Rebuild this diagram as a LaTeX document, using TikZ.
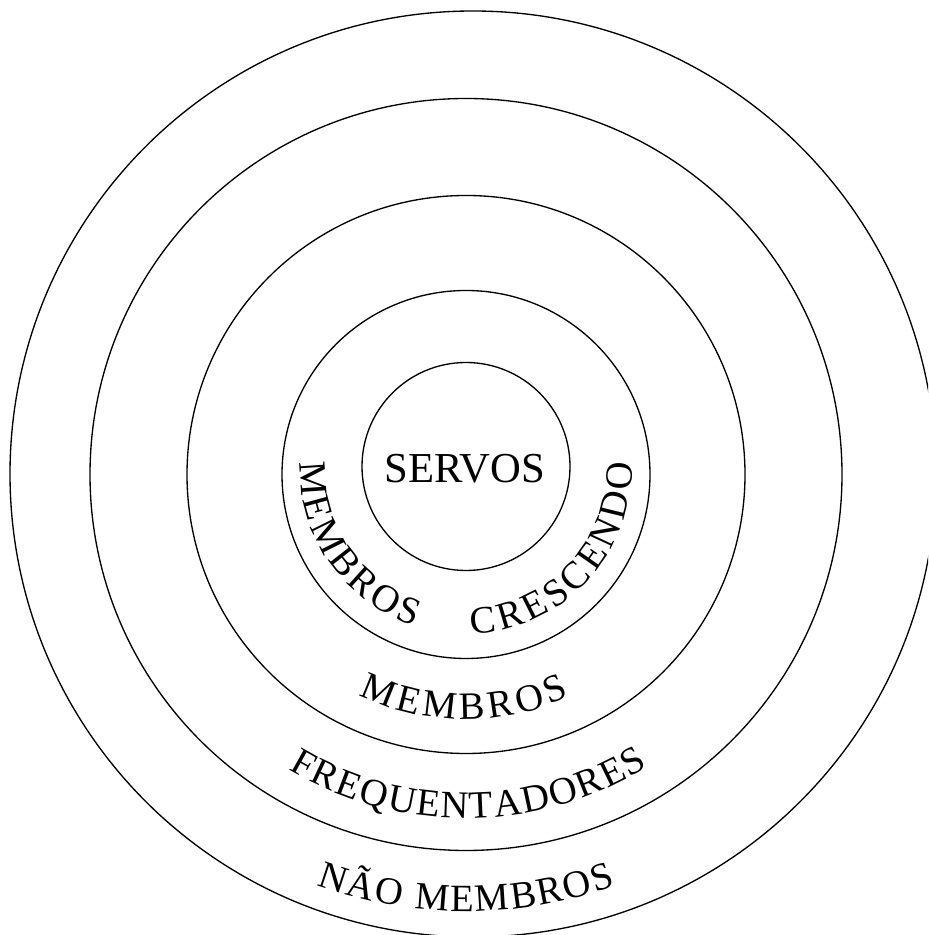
\documentclass[tikz,border=0pt]{standalone}
\usepackage{fontspec}
\setmainfont{Liberation Serif}
\usetikzlibrary{decorations.text}
\newcommand\ringfont{\fontsize{29}{32}\selectfont}

\begin{document}
\begin{tikzpicture}[
  x=0.75pt, y=0.75pt,
  ring/.style={draw, line width=1pt},
  arctext/.style={decorate, decoration={text along path, text align=fit to path,
                  text={|\ringfont|#1}}}
]
\useasboundingbox (0,0) rectangle (928,935);
\clip (0,0) rectangle (928,935);

\coordinate (core) at (466,468.5);
\coordinate (mid)  at (466,460.5);
\coordinate (rim)  at (473,461);
\coordinate (band) at (466,467);

% rings, inside out
\draw[ring] (core) circle[radius=104];
\draw[ring] (mid)  circle[radius=184];
\draw[ring] (mid)  circle[radius=279];
\draw[ring] (mid)  circle[radius=376];
\draw[ring] (rim)  circle[radius=463];

\node[anchor=base, font=\fontsize{32}{35}\selectfont, inner sep=0pt] (servos) at (465,452) {SERVOS};

% curved labels
\path[arctext={MEMBROS}]   (band) ++(178:166) arc[start angle=178, end angle=252, radius=166];
\path[arctext={CRESCENDO}] (band) ++(272:166) arc[start angle=272, end angle=362, radius=166];
\path[arctext={MEMBROS}]   (mid) ++(244:245) arc[start angle=244, end angle=295, radius=245];
\path[arctext={FREQUENTADORES}] (mid) ++(239:344) arc[start angle=239, end angle=302, radius=344];
\path[arctext={NÃO MEMBROS}] (mid) ++(250:437) arc[start angle=250, end angle=290, radius=437];

\end{tikzpicture}
\end{document}
